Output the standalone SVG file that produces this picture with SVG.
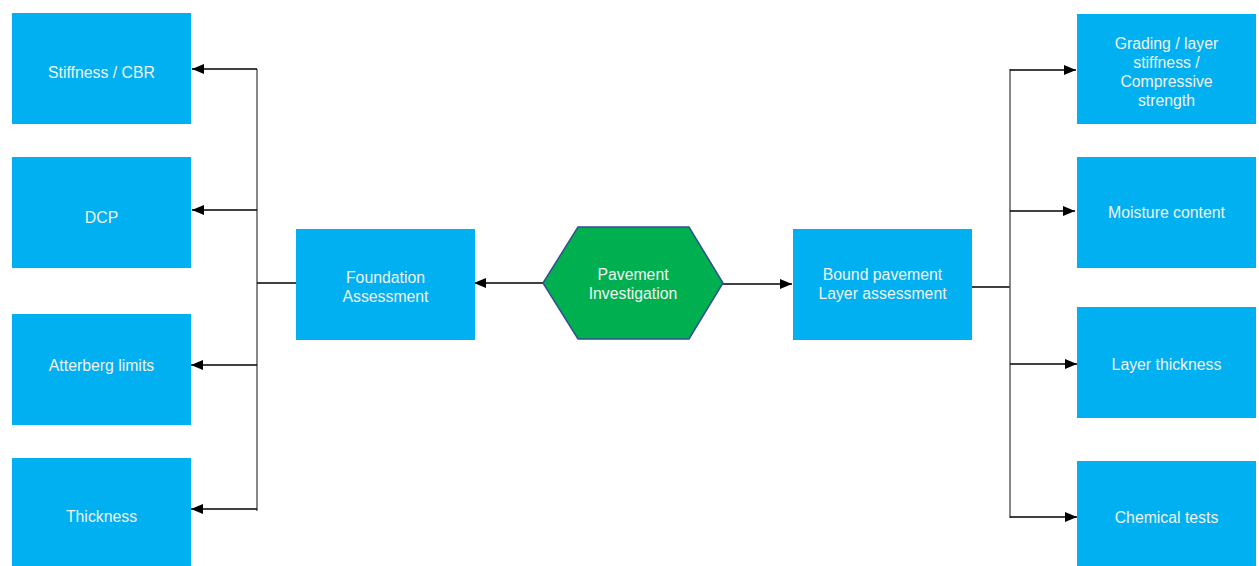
<svg xmlns="http://www.w3.org/2000/svg" width="1259" height="566" viewBox="0 0 1259 566">
<style>
.box{fill:#00B0F0;}
.hex{fill:#00B050;stroke:#2F528F;stroke-width:1.5;}
.t{font-family:"Liberation Sans",Arial,sans-serif;font-size:15.8px;fill:#F2F2F2;text-anchor:middle;}
.c{stroke:#000;stroke-width:1.3;fill:none;}
.trunk{stroke:#555;stroke-width:1.4;fill:none;}
</style>
<defs>
<marker id="ah" viewBox="0 0 12 10" refX="12" refY="5" markerWidth="12" markerHeight="10" markerUnits="userSpaceOnUse" orient="auto">
<path d="M0,0 L12,5 L0,10 z" fill="#000"/>
</marker>
</defs>
<rect width="1259" height="566" fill="#fff"/>
<g id="connectors">
<path class="trunk" d="M257,69 V511"/>
<path class="c" d="M257,69 H192" marker-end="url(#ah)"/>
<path class="c" d="M257,210 H192" marker-end="url(#ah)"/>
<path class="c" d="M257,365 H191" marker-end="url(#ah)"/>
<path class="c" d="M257,509 H191" marker-end="url(#ah)"/>
<path class="c" d="M257,283 H296"/>
<path class="c" d="M543,283 H474" marker-end="url(#ah)"/>
<path class="c" d="M723,284 H792" marker-end="url(#ah)"/>
<path class="c" d="M971,287 H1010"/>
<path class="trunk" d="M1010,69 V518"/>
<path class="c" d="M1010,70 H1076" marker-end="url(#ah)"/>
<path class="c" d="M1010,211 H1075" marker-end="url(#ah)"/>
<path class="c" d="M1010,364 H1077" marker-end="url(#ah)"/>
<path class="c" d="M1010,517 H1077" marker-end="url(#ah)"/>
</g>
<g id="stiffness"><rect class="box" x="12" y="13" width="179" height="111"/><text class="t" x="101.5" y="78">Stiffness / CBR</text></g>
<g id="dcp"><rect class="box" x="12" y="157" width="179" height="111"/><text class="t" x="101.5" y="223">DCP</text></g>
<g id="atterberg"><rect class="box" x="12" y="314" width="179" height="111"/><text class="t" x="101.5" y="371">Atterberg limits</text></g>
<g id="thickness"><rect class="box" x="12" y="458" width="179" height="108"/><text class="t" x="101.5" y="522">Thickness</text></g>
<g id="foundation"><rect class="box" x="296" y="229" width="179" height="111"/><text class="t" x="385.5" y="283">Foundation</text><text class="t" x="385.5" y="302">Assessment</text></g>
<g id="pavement"><polygon class="hex" points="543,283 578,227 689,227 723,283 689,339 578,339"/><text class="t" x="633" y="280">Pavement</text><text class="t" x="633" y="299">Investigation</text></g>
<g id="bound"><rect class="box" x="793" y="229" width="179" height="111"/><text class="t" x="882.5" y="280">Bound pavement</text><text class="t" x="882.5" y="299">Layer assessment</text></g>
<g id="grading"><rect class="box" x="1077" y="14" width="179" height="110"/><text class="t" x="1166.5" y="49">Grading / layer</text><text class="t" x="1166.5" y="68">stiffness /</text><text class="t" x="1166.5" y="87">Compressive</text><text class="t" x="1166.5" y="106">strength</text></g>
<g id="moisture"><rect class="box" x="1077" y="157" width="179" height="111"/><text class="t" x="1166.5" y="218">Moisture content</text></g>
<g id="layer"><rect class="box" x="1077" y="307" width="179" height="111"/><text class="t" x="1166.5" y="370">Layer thickness</text></g>
<g id="chemical"><rect class="box" x="1077" y="461" width="179" height="105"/><text class="t" x="1166.5" y="523">Chemical tests</text></g>
</svg>
